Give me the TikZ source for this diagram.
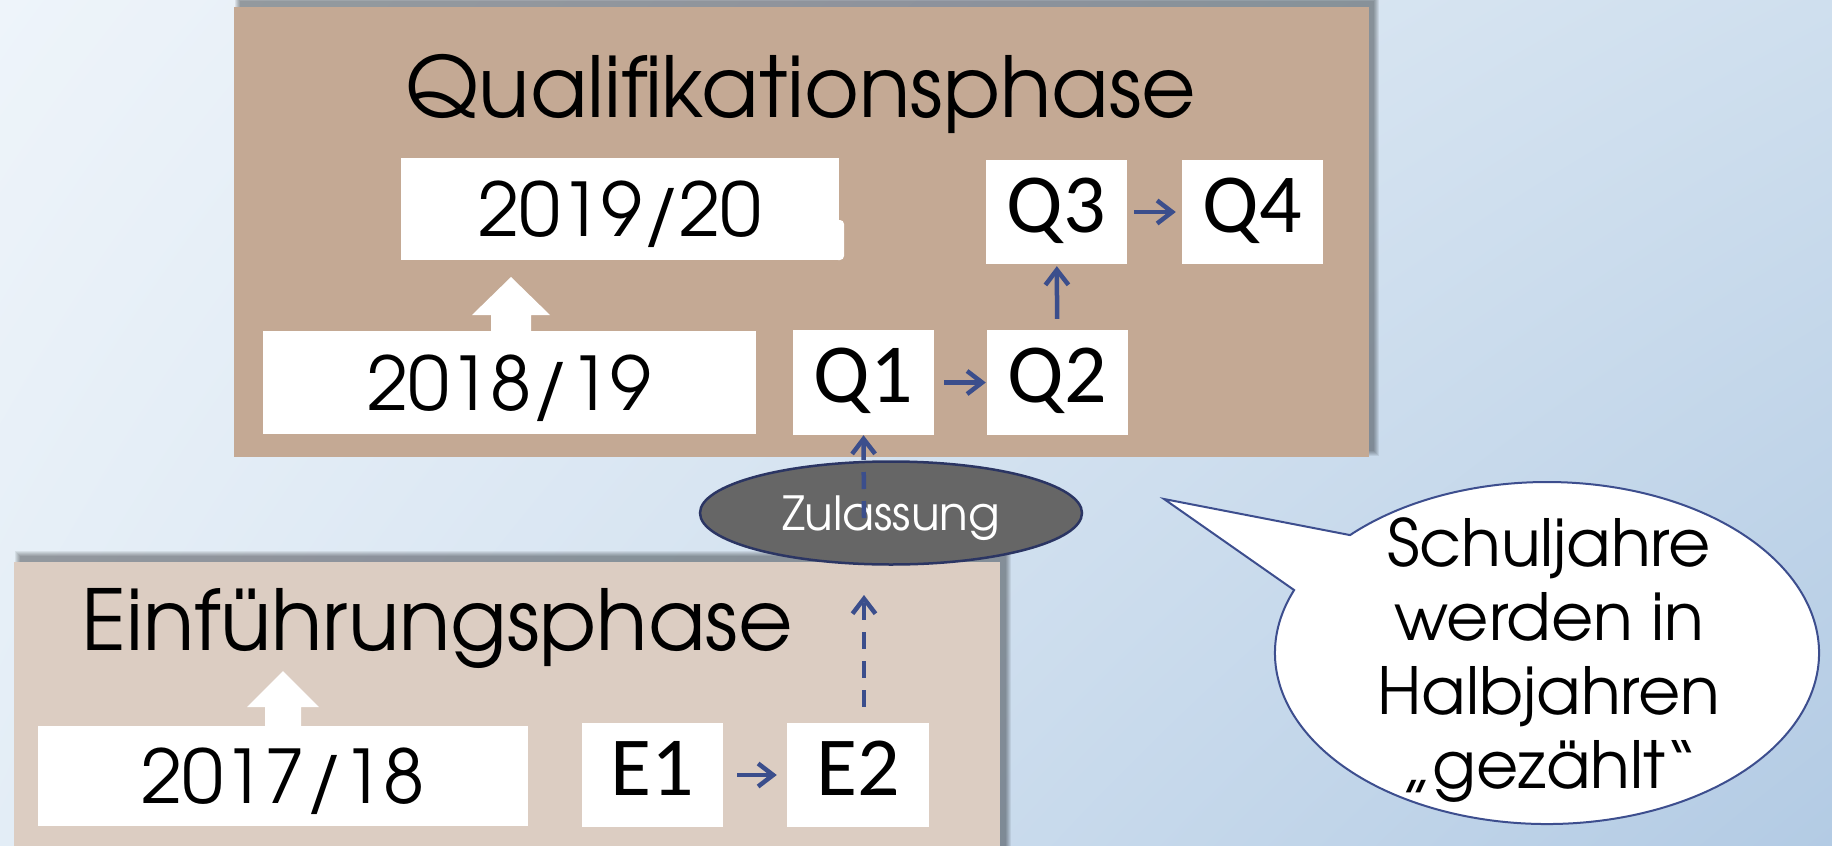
\documentclass[tikz,border=0pt]{standalone}
\usepackage{fontspec}
\setmainfont{TeX Gyre Adventor}
\newfontfamily\calib{Carlito}
\usetikzlibrary{arrows.meta,shapes.geometric,shadings}
\definecolor{bgUL}{HTML}{EEF4FA}
\definecolor{bgUR}{HTML}{CFDFEE}
\definecolor{bgLL}{HTML}{E3EDF6}
\definecolor{bgLR}{HTML}{B3CBE4}
\definecolor{qcol}{HTML}{C4A994}
\definecolor{ecol}{HTML}{DCCDC2}
\definecolor{arrowblue}{HTML}{3B4E8C}
\definecolor{zulfill}{HTML}{666666}
\definecolor{zulline}{HTML}{2B3563}
\definecolor{bubline}{HTML}{3D4E8E}
\begin{document}
\begin{tikzpicture}[x=1pt,y=-1pt,
  phasebox/.style={fill=#1, inner sep=0pt, anchor=center},
  yearbox/.style={fill=white, inner sep=0pt, text height=55pt, text depth=0pt,
    font=\fontsize{74}{80}\selectfont},
  halfbox/.style={fill=white, inner sep=0pt, minimum width=141pt, minimum height=105pt,
    text height=54pt, text depth=14pt, font=\calib\fontsize{84}{90}\selectfont},
  title/.style={anchor=base, inner sep=0pt, font=\fontsize{#1}{#1}\selectfont},
  link/.style={draw=arrowblue, line width=4.5pt, -{Straight Barb[length=15pt,width=23pt]}},
  dlink/.style={link, dash pattern=on 17pt off 12pt},
  blockarrow/.style={fill=white},
]
\useasboundingbox (0,0) rectangle (1832,846);
\clip (0,0) rectangle (1832,846);
% background
\shade[upper left=bgUL, upper right=bgUR, lower left=bgLL, lower right=bgLR]
  (0,0) rectangle (1832,846);

% shadows
\foreach \i in {0,...,5}{
  \fill[black, opacity=0.07] (240-\i,1-\i) rectangle (1374+\i,451+\i);
  \fill[black, opacity=0.07] (20-\i,556-\i) rectangle (1006+\i,846);
}

% phase boxes
\node[phasebox=qcol, minimum width=1135pt, minimum height=450pt] (qphase) at (801,232) {};
\node[phasebox=ecol, minimum width=986pt, minimum height=284pt] (ephase) at (507,704) {};

\node[title=84] (qtitle) at (801,117) {Qualifikationsphase};
\node[title=84] (etitle) at (437,650) {Einführungsphase};

% year boxes
\node[yearbox, minimum width=438pt, minimum height=102pt] (y1920) at (620,209) {2019/20};
\fill[white, rounded corners=4pt] (834,220) rectangle (844,260);
\node[yearbox, minimum width=493pt, minimum height=103pt] (y1819) at (509.5,382.5) {2018/19};
\node[yearbox, minimum width=490pt, minimum height=100pt] (y1718) at (283,776) {2017/18};

% block arrows
\fill[blockarrow] (491,332) -- (491,315) -- (472,315) -- (511,277) -- (550,315)
  -- (531,315) -- (531,332) -- cycle;
\fill[blockarrow] (265,726) -- (265,707) -- (247,707) -- (283,671) -- (319,707)
  -- (301,707) -- (301,726) -- cycle;

% half-year boxes
\node[halfbox] (Q1) at (863.5,382.5) {Q1};
\node[halfbox] (Q2) at (1057.5,382.5) {Q2};
\node[halfbox, minimum height=104pt] (Q3) at (1056.5,212) {Q3};
\node[halfbox, minimum height=104pt] (Q4) at (1252.5,212) {Q4};
\node[halfbox, minimum height=104pt] (E1) at (652.5,775) {E1};
\node[halfbox, minimum width=142pt, minimum height=104pt] (E2) at (858,775) {E2};

\draw[link, shorten <=10pt, shorten >=1pt] (Q1) -- (Q2);
\draw[link, shorten <=11pt, shorten >=2pt] (Q2) -- (Q3);
\draw[link, shorten <=7pt, shorten >=6pt] (Q3) -- (Q4);
\draw[link, shorten <=14pt, shorten >=10pt] (E1) -- (E2);

% Zulassung
\node[ellipse, fill=zulfill, draw=zulline, line width=2.5pt, inner sep=0pt,
  minimum width=382pt, minimum height=103pt, text=white, text height=35pt, text depth=0pt,
  font=\fontsize{47}{50}\selectfont] (zul) at (891,513) {Zulassung};
\coordinate (zin) at (864,518);
\coordinate (zbot) at (864,595);
\draw[dlink] (zin) -- (Q1.south);
\draw[dlink, shorten <=16pt] (E2.north -| zbot) -- (zbot);

% speech bubble
\coordinate (bc) at (1547,653);
\coordinate (tip) at (1164,499);
\path (bc) ++(223.6:272 and 171) coordinate (b1);
\path (bc) ++(201.6:272 and 171) coordinate (b2);
\draw[bubline, fill=white, line width=2pt, line join=miter]
  (b1) -- (tip) -- (b2) arc[start angle=201.6, end angle=-136.4, x radius=272, y radius=171] -- cycle;
\node[align=center, inner sep=0pt, font=\fontsize{65}{74}\selectfont] (bubtext) at (1549,660)
  {Schuljahre\\werden in\\Halbjahren\\„gezählt“};
\end{tikzpicture}
\end{document}
